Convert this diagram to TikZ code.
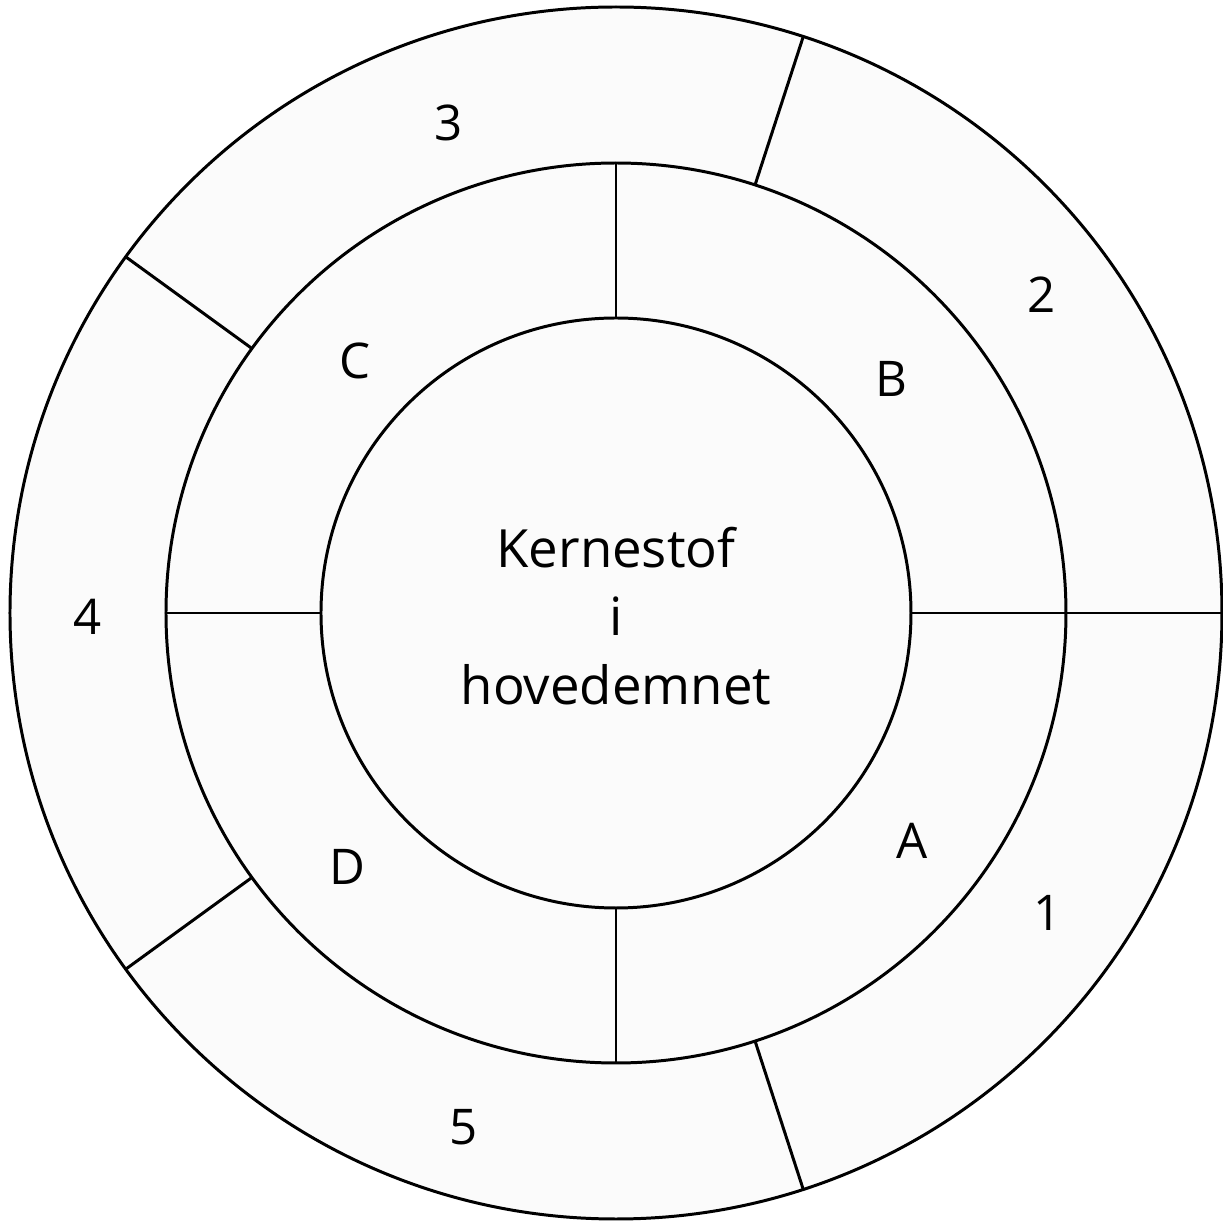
\documentclass[tikz,border=0pt]{standalone}
\usepackage{fontspec}
\setmainfont{Open Sans}
\usepackage{tikz}
\usetikzlibrary{positioning}

\begin{document}
\begin{tikzpicture}[
  every node/.style={font=\fontsize{14}{19.5}\selectfont},
  ring/.style={circle,draw,line width=0.85pt,fill=black!1.5,inner sep=0pt,outer sep=0pt},
  sep/.style={line width=0.85pt}
]
\useasboundingbox (-6.16,-6.08) rectangle (6.07,6.13);
% the three rings
\node[ring,minimum size=12.12cm] (outer) at (0,0) {};
\node[ring,minimum size=9.00cm] (mid) at (0,0) {};
\node[ring,minimum size=5.90cm] (core) at (0,0) {};
\node[align=center,font=\fontsize{15}{19.4}\selectfont] (title) at (0,-0.03) {Kernestof\\i\\hovedemnet};
% dividers
\foreach \a in {0,90,180,270}
  \draw[sep] (core.\a) -- (mid.\a);
\foreach \a in {0,72,144,216,288}
  \draw[sep] (mid.\a) -- (outer.\a);
% labels
\node (lA) at (2.96,-2.28) {A};
\node (lB) at (2.75,2.34) {B};
\node (lC) at (-2.61,2.52) {C};
\node (lD) at (-2.69,-2.54) {D};
\node (l1) at (4.32,-3.00) {1};
\node (l2) at (4.26,3.18) {2};
\node (l3) at (-1.67,4.90) {3};
\node (l4) at (-5.28,-0.04) {4};
\node (l5) at (-1.52,-5.14) {5};
\end{tikzpicture}
\end{document}
